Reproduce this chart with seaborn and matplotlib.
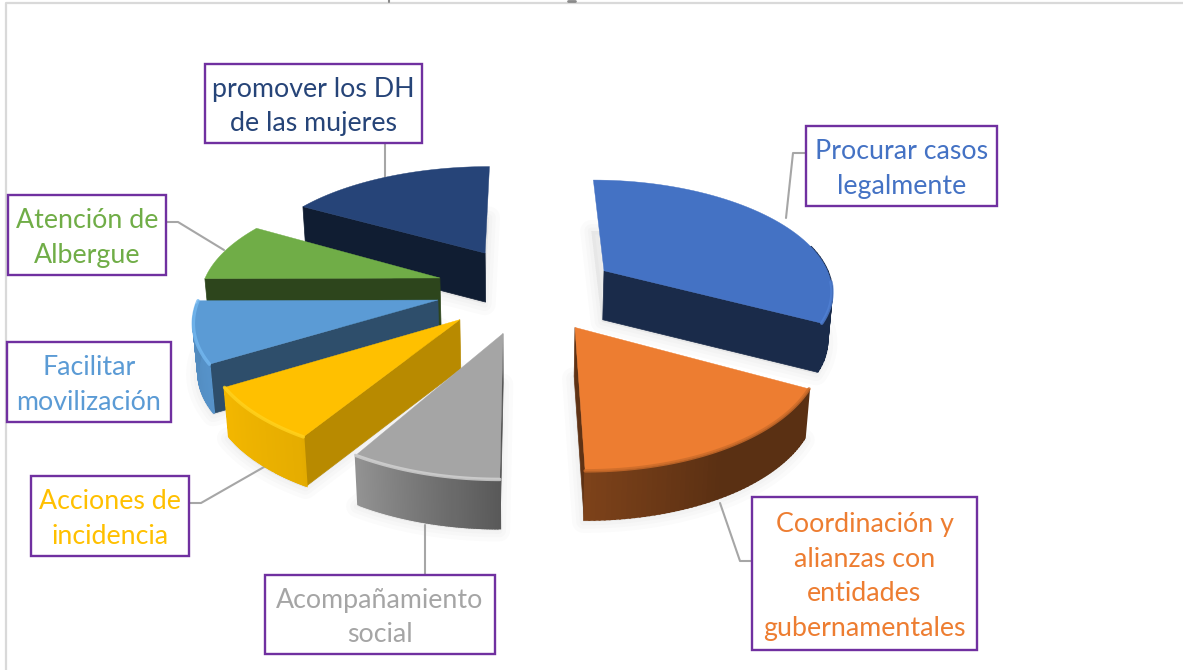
import numpy as np
import matplotlib
matplotlib.use('Agg')
import matplotlib.pyplot as plt
from matplotlib.patches import Rectangle
from matplotlib.colors import to_rgb
import seaborn as sns

# values (share of the pie, %)
categories = ['Procurar casos\nlegalmente',
              'Coordinación y\nalianzas con\nentidades\ngubernamentales',
              'Acompañamiento\nsocial',
              'Acciones de\nincidencia',
              'Facilitar\nmovilización',
              'Atención de\nAlbergue',
              'promover los DH\nde las mujeres']
values = [32.8, 17.2, 8.6, 7.6, 8.7, 8.5, 16.6]

# slice styling
colors = sns.color_palette(['#4472C4', '#ED7D31', '#A5A5A5', '#FFC000', '#5B9BD5', '#70AD47', '#264478'])
# how far each slice is pulled out, in pie radii (sideways, backwards)
explode_x = [0.376, 0.228, -0.070, -0.252, -0.353, -0.355, -0.160]
explode_y = [0.226, -0.280, -0.330, -0.215, -0.045, 0.157, 0.400]
# the slices on the left are drawn a bit wider
width_scale = [1.0, 1.0, 1.0, 1.04, 1.03, 1.04, 1.05]
cut_shade = [0.38, 0.40, 0.50, 0.72, 0.50, 0.40, 0.42]
rim_colors = ['#5080d4', '#cc6c2a', '#d4d4d4', '#ffd21f', '#74b8f0', None, None]
draw_order = [6, 5, 4, 3, 2, 0, 1]
text_colors = ['#4472C4', '#ED7D31', '#A5A5A5', '#FFC000', '#5B9BD5', '#70AD47', '#264478']

# label boxes: left, top, right, bottom
boxes = [(806, 126, 997, 206), (752, 497, 977, 650), (265, 575, 495, 654),
         (31, 476, 189, 556), (7, 342, 171, 422), (8, 195, 166, 275), (205, 64, 422, 143)]
leaders = [[(806, 153), (793, 153), (786, 218)],
           [(752, 561), (740, 561), (720, 503)],
           [(425, 575), (425, 525)],
           [(189, 503), (201, 503), (264, 467)],
           [],
           [(166, 222), (178, 222), (224, 250)],
           [(385, 143), (385, 178)]]

CX, CY = 520, 295
RX, RY = 231, 111
K = 0.15
HEIGHT = 49
TAPER = 0.985

sns.set_theme(style='white')
plt.rcParams['font.family'] = ['Lato', 'DejaVu Sans']


def project(x, y):
    w = 1 + K * y
    return CX + RX * x / w, CY - RY * y / w


def lower(px, py):
    return CX + (px - CX) * TAPER, py + HEIGHT


def wall_shade(deg):
    return np.interp(deg, [90, 150, 178, 181, 212, 237, 270], [0.38, 0.38, 0.52, 0.55, 0.9, 0.95, 0.88])


fig = plt.figure(figsize=(11.83, 6.70), dpi=100)
ax = fig.add_axes([0, 0, 1, 1])
ax.set_xlim(0, 1183)
ax.set_ylim(670, 0)
ax.axis('off')

# chart frame and the clipped bits of the cut off title
ax.plot([6, 6, 1183], [670, 3, 3], color='#D9D9D9', lw=1.6, zorder=1)
ax.plot([389, 389], [0, 2], color='#8a8a8a', lw=1.5, zorder=1)
ax.plot([568, 575], [1, 1], color='#8a8a8a', lw=2, zorder=1)

shares = np.array(values) / sum(values) * 360
starts = np.concatenate([[0], np.cumsum(shares)[:-1]])

slices = []
for i in range(len(values)):
    a0, a1 = starts[i], starts[i] + shares[i]
    ox, oy = explode_x[i], explode_y[i]
    deg = np.linspace(a0, a1, 60)
    xs, ys = project(ox + width_scale[i] * np.sin(np.radians(deg)), oy + np.cos(np.radians(deg)))
    apex = project(ox, oy)
    slices.append((i, a0, a1, deg, xs, ys, apex))

# soft shadows first
for i, a0, a1, deg, xs, ys, apex in slices:
    bx, by = lower(np.r_[apex[0], xs], np.r_[apex[1], ys])
    for lw in [16, 10, 5]:
        ax.fill(bx - 1, by + 2, facecolor='black', edgecolor='black', alpha=0.015, lw=lw,
                joinstyle='round', zorder=2)

# leader lines run behind the slices
for pts in leaders:
    if pts:
        lx, ly = zip(*pts)
        ax.plot(lx, ly, color='#A6A6A6', lw=1.5, zorder=2.5)

for i in draw_order:
    _, a0, a1, deg, xs, ys, apex = slices[i]
    base = np.array(to_rgb(colors[i]))
    z = 3 + draw_order.index(i)

    # the cut side that faces the viewer
    if (a0 + a1) / 2 < 180:
        ex, ey = xs[-1], ys[-1]
    else:
        ex, ey = xs[0], ys[0]
    qx, qy = lower(np.array([ex, apex[0]]), np.array([ey, apex[1]]))
    ax.fill([apex[0], ex, qx[0], qx[1]], [apex[1], ey, qy[0], qy[1]],
            color=tuple(base * cut_shade[i]), lw=0.5, zorder=z)

    # outer wall, shaded strip by strip
    bx, by = lower(xs, ys)
    for j in range(len(deg) - 1):
        if deg[j] < 75 or deg[j] > 268:
            continue
        ax.fill([xs[j], xs[j + 1], bx[j + 1], bx[j]], [ys[j], ys[j + 1], by[j + 1], by[j]],
                color=tuple(base * wall_shade(deg[j])), lw=1.5, zorder=z)

    # top face
    ax.fill(np.r_[apex[0], xs], np.r_[apex[1], ys], color=tuple(base), lw=0.3, zorder=z)

    # bevel along the front of the rim
    if rim_colors[i] is not None:
        mask = (deg > 95) & (deg < 285)
        if mask.any():
            ax.plot(xs[mask], ys[mask], color=rim_colors[i], lw=2.5, alpha=0.8,
                    solid_capstyle='round', zorder=z)

# label boxes
for label, box, col in zip(categories, boxes, text_colors):
    x0, y0, x1, y1 = box
    ax.add_patch(Rectangle((x0, y0), x1 - x0, y1 - y0, facecolor='white', edgecolor='#7030A0', lw=1.7, zorder=21))
    ax.text((x0 + x1) / 2, (y0 + y1) / 2 + 3, label, color=col, fontsize=19.3, ha='center', va='center',
            linespacing=1.47, zorder=22)

plt.savefig('out.png', dpi=100)
